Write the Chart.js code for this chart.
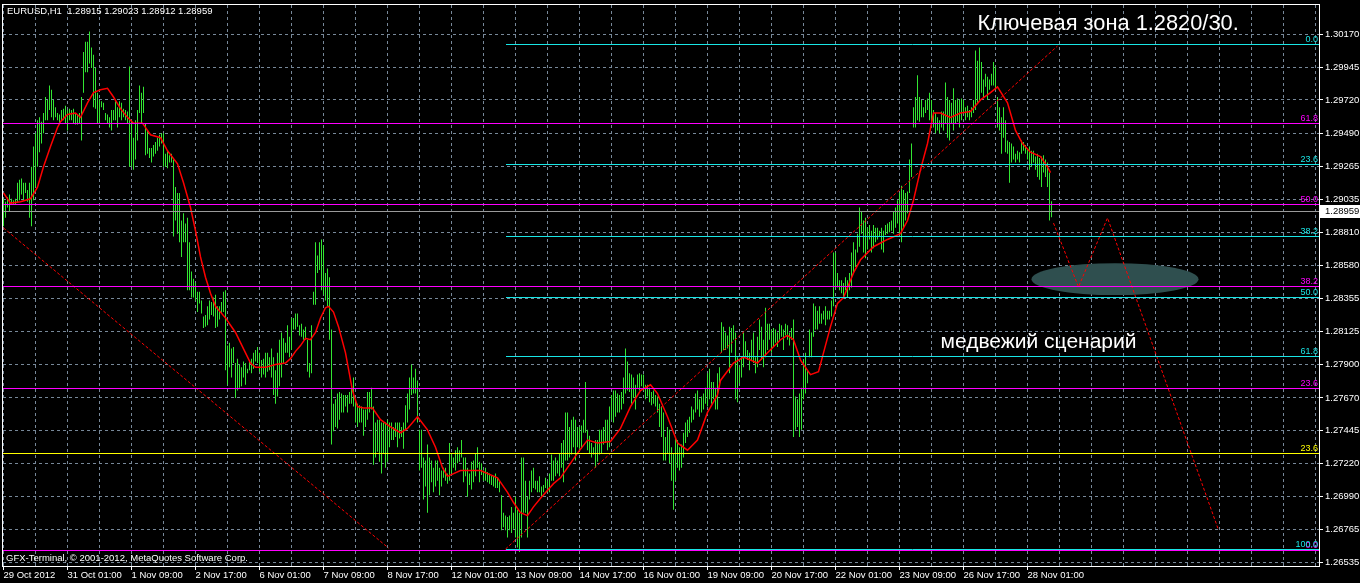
<!DOCTYPE html>
<html><head><meta charset="utf-8">
<script src="https://cdn.jsdelivr.net/npm/chart.js@4.4.1/dist/chart.umd.min.js"></script>
<style>html,body{margin:0;padding:0;background:#000;}canvas{display:block;}</style>
</head><body>
<canvas id="c" width="1360" height="583"></canvas>
<script>
// ---------- DATA ----------
const headerText = 'EURUSD,H1  1.28915 1.29023 1.28912 1.28959';
const copyrightText = 'GFX-Terminal, \u00A9 2001-2012, MetaQuotes Software Corp.';
const lastClose = 1.28959;

// bar index of each time label (H1 bars, weekends skipped)
const timeTickIdx = [0,32,64,96,128,160,192,224,256,288,320,352,384,416,448,480,512];
const timeTickLabels = ['29 Oct 2012','31 Oct 01:00','1 Nov 09:00','2 Nov 17:00','6 Nov 01:00','7 Nov 09:00','8 Nov 17:00','12 Nov 01:00','13 Nov 09:00','14 Nov 17:00','16 Nov 01:00','19 Nov 09:00','20 Nov 17:00','22 Nov 01:00','23 Nov 09:00','26 Nov 17:00','28 Nov 01:00'];
const priceTicks = [1.26535,1.26765,1.26990,1.27220,1.27445,1.27670,1.27900,1.28125,1.28355,1.28580,1.28810,1.29035,1.29265,1.29490,1.29720,1.29945,1.30170];

const barHigh = [
1.2904,1.2902,1.2905,1.2907,1.2904,1.2903,1.2904,1.2915,1.2917,1.2918,
1.2915,1.2915,1.2910,1.2915,1.2926,1.2940,1.2949,1.2958,1.2960,1.2957,
1.2963,1.2974,1.2972,1.2982,1.2979,1.2972,1.2967,1.2963,1.2962,1.2965,
1.2966,1.2968,1.2965,1.2966,1.2965,1.2966,1.2963,1.2962,1.2963,1.2974,
1.3005,1.3012,1.3012,1.3019,1.3008,1.3003,1.2994,1.2977,1.2972,1.2971,
1.2970,1.2963,1.2962,1.2960,1.2965,1.2965,1.2971,1.2967,1.2971,1.2970,
1.2966,1.2965,1.2964,1.2995,1.2958,1.2946,1.2958,1.2965,1.2982,1.2977,
1.2981,1.2956,1.2951,1.2939,1.2939,1.2941,1.2943,1.2946,1.2948,1.2949,
1.2949,1.2935,1.2937,1.2934,1.2935,1.2931,1.2912,1.2908,1.2908,1.2889,
1.2894,1.2887,1.2891,1.2874,1.2854,1.2849,1.2846,1.2840,1.2840,1.2834,
1.2823,1.2824,1.2830,1.2834,1.2833,1.2836,1.2838,1.2830,1.2830,1.2833,
1.2840,1.2841,1.2803,1.2805,1.2801,1.2802,1.2791,1.2794,1.2790,1.2788,
1.2792,1.2791,1.2787,1.2793,1.2794,1.2798,1.2800,1.2802,1.2798,1.2793,
1.2794,1.2798,1.2798,1.2795,1.2801,1.2795,1.2786,1.2798,1.2807,1.2812,
1.2808,1.2805,1.2817,1.2809,1.2822,1.2822,1.2825,1.2825,1.2817,1.2818,
1.2814,1.2816,1.2807,1.2791,1.2817,1.2840,1.2874,1.2865,1.2874,1.2876,
1.2872,1.2853,1.2856,1.2850,1.2814,1.2763,1.2766,1.2770,1.2771,1.2770,
1.2769,1.2769,1.2769,1.2771,1.2774,1.2781,1.2766,1.2763,1.2762,1.2761,
1.2759,1.2759,1.2771,1.2771,1.2774,1.2761,1.2750,1.2752,1.2752,1.2750,
1.2750,1.2750,1.2752,1.2750,1.2750,1.2747,1.2750,1.2750,1.2750,1.2747,
1.2750,1.2762,1.2770,1.2781,1.2790,1.2781,1.2787,1.2779,1.2745,1.2745,
1.2726,1.2724,1.2735,1.2726,1.2724,1.2719,1.2724,1.2724,1.2719,1.2717,
1.2719,1.2719,1.2715,1.2736,1.2729,1.2726,1.2731,1.2733,1.2731,1.2738,
1.2726,1.2726,1.2719,1.2715,1.2723,1.2724,1.2729,1.2733,1.2723,1.2722,
1.2717,1.2719,1.2716,1.2715,1.2714,1.2713,1.2715,1.2712,1.2710,1.2700,
1.2688,1.2686,1.2685,1.2686,1.2692,1.2688,1.2699,1.2690,1.2688,1.2726,
1.2726,1.2710,1.2699,1.2710,1.2717,1.2719,1.2710,1.2710,1.2713,1.2706,
1.2707,1.2712,1.2710,1.2715,1.2728,1.2724,1.2726,1.2724,1.2729,1.2736,
1.2738,1.2757,1.2757,1.2747,1.2752,1.2754,1.2752,1.2747,1.2747,1.2748,
1.2752,1.2778,1.2745,1.2741,1.2736,1.2733,1.2738,1.2738,1.2745,1.2745,
1.2747,1.2752,1.2752,1.2761,1.2769,1.2772,1.2772,1.2770,1.2769,1.2771,
1.2781,1.2801,1.2792,1.2784,1.2783,1.2781,1.2776,1.2783,1.2784,1.2783,
1.2783,1.2776,1.2776,1.2774,1.2771,1.2772,1.2769,1.2768,1.2763,1.2761,
1.2757,1.2740,1.2747,1.2745,1.2733,1.2729,1.2740,1.2738,1.2733,1.2735,
1.2743,1.2750,1.2752,1.2754,1.2761,1.2759,1.2770,1.2772,1.2766,1.2768,
1.2770,1.2774,1.2784,1.2787,1.2778,1.2778,1.2774,1.2784,1.2788,1.2819,
1.2816,1.2812,1.2810,1.2816,1.2815,1.2817,1.2812,1.2795,1.2788,1.2795,
1.2812,1.2806,1.2800,1.2798,1.2807,1.2812,1.2795,1.2809,1.2821,1.2816,
1.2807,1.2829,1.2818,1.2818,1.2814,1.2815,1.2814,1.2812,1.2818,1.2817,
1.2814,1.2818,1.2817,1.2812,1.2815,1.2821,1.2768,1.2766,1.2770,1.2774,
1.2793,1.2798,1.2786,1.2814,1.2812,1.2832,1.2830,1.2827,1.2830,1.2825,
1.2827,1.2830,1.2827,1.2827,1.2834,1.2867,1.2867,1.2853,1.2848,1.2848,
1.2846,1.2850,1.2848,1.2853,1.2867,1.2874,1.2869,1.2880,1.2898,1.2895,
1.2889,1.2891,1.2884,1.2886,1.2882,1.2886,1.2884,1.2884,1.2882,1.2884,
1.2882,1.2886,1.2887,1.2888,1.2889,1.2895,1.2898,1.2903,1.2908,1.2913,
1.2910,1.2908,1.2909,1.2931,1.2942,1.2967,1.2974,1.2989,1.2974,1.2972,
1.2967,1.2972,1.2973,1.2977,1.2972,1.2965,1.2963,1.2960,1.2958,1.2964,
1.2964,1.2984,1.2974,1.2972,1.2970,1.2980,1.2972,1.2973,1.2972,1.2973,
1.2972,1.2967,1.2968,1.2965,1.2967,1.2972,1.3006,1.2999,1.3008,1.2998,
1.2986,1.2990,1.2988,1.2986,1.2990,1.2998,1.2995,1.2974,1.2967,1.2960,
1.2967,1.2958,1.2944,1.2943,1.2942,1.2940,1.2935,1.2937,1.2936,1.2944,
1.2943,1.2941,1.2939,1.2940,1.2937,1.2937,1.2933,1.2935,1.2932,1.2933,
1.2934,1.2931,1.2929,1.2922,1.29023];

const barLow = [
1.2885,1.2891,1.2898,1.2895,1.2900,1.2900,1.2900,1.2901,1.2903,1.2907,
1.2903,1.2908,1.2902,1.2891,1.2885,1.2903,1.2912,1.2926,1.2936,1.2942,
1.2949,1.2958,1.2958,1.2965,1.2960,1.2958,1.2960,1.2958,1.2956,1.2958,
1.2958,1.2956,1.2951,1.2958,1.2958,1.2956,1.2955,1.2955,1.2956,1.2944,
1.2977,1.2991,1.2991,1.2997,1.2994,1.2967,1.2966,1.2956,1.2956,1.2967,
1.2965,1.2958,1.2956,1.2953,1.2951,1.2958,1.2958,1.2953,1.2960,1.2958,
1.2960,1.2958,1.2956,1.2926,1.2926,1.2924,1.2931,1.2944,1.2963,1.2956,
1.2963,1.2934,1.2935,1.2932,1.2929,1.2933,1.2935,1.2937,1.2940,1.2942,
1.2926,1.2926,1.2925,1.2929,1.2929,1.2878,1.2889,1.2880,1.2874,1.2864,
1.2874,1.2874,1.2841,1.2841,1.2836,1.2836,1.2834,1.2826,1.2832,1.2825,
1.2815,1.2816,1.2817,1.2821,1.2824,1.2823,1.2815,1.2816,1.2821,1.2825,
1.2826,1.2786,1.2776,1.2788,1.2781,1.2791,1.2767,1.2772,1.2774,1.2775,
1.2781,1.2776,1.2784,1.2786,1.2784,1.2787,1.2792,1.2791,1.2785,1.2781,
1.2783,1.2781,1.2785,1.2786,1.2781,1.2769,1.2763,1.2768,1.2775,1.2781,
1.2791,1.2798,1.2798,1.2795,1.2800,1.2814,1.2814,1.2816,1.2810,1.2809,
1.2807,1.2807,1.2785,1.2781,1.2784,1.2831,1.2831,1.2853,1.2855,1.2841,
1.2838,1.2834,1.2830,1.2807,1.2735,1.2744,1.2747,1.2746,1.2752,1.2757,
1.2757,1.2761,1.2757,1.2763,1.2763,1.2761,1.2750,1.2747,1.2750,1.2750,
1.2741,1.2747,1.2752,1.2757,1.2759,1.2721,1.2726,1.2730,1.2723,1.2715,
1.2729,1.2719,1.2723,1.2733,1.2738,1.2738,1.2740,1.2733,1.2739,1.2740,
1.2732,1.2745,1.2750,1.2759,1.2769,1.2770,1.2770,1.2750,1.2717,1.2719,
1.2697,1.2706,1.2688,1.2700,1.2709,1.2702,1.2706,1.2710,1.2700,1.2706,
1.2712,1.2710,1.2708,1.2710,1.2715,1.2719,1.2717,1.2722,1.2723,1.2726,
1.2709,1.2713,1.2699,1.2707,1.2704,1.2709,1.2713,1.2719,1.2709,1.2714,
1.2710,1.2710,1.2709,1.2708,1.2707,1.2706,1.2705,1.2705,1.2702,1.2676,
1.2678,1.2676,1.2671,1.2676,1.2674,1.2677,1.2671,1.2664,1.2661,1.2671,
1.2688,1.2688,1.2671,1.2697,1.2702,1.2705,1.2704,1.2702,1.2702,1.2699,
1.2702,1.2705,1.2702,1.2702,1.2710,1.2710,1.2713,1.2715,1.2713,1.2719,
1.2709,1.2724,1.2724,1.2726,1.2728,1.2733,1.2724,1.2733,1.2732,1.2732,
1.2743,1.2743,1.2731,1.2729,1.2726,1.2728,1.2719,1.2723,1.2728,1.2729,
1.2735,1.2736,1.2731,1.2733,1.2752,1.2750,1.2754,1.2757,1.2757,1.2759,
1.2763,1.2770,1.2772,1.2771,1.2763,1.2767,1.2759,1.2774,1.2772,1.2775,
1.2772,1.2766,1.2768,1.2764,1.2762,1.2763,1.2761,1.2757,1.2747,1.2740,
1.2724,1.2724,1.2729,1.2722,1.2710,1.2690,1.2710,1.2719,1.2717,1.2719,
1.2726,1.2736,1.2740,1.2743,1.2750,1.2752,1.2757,1.2759,1.2754,1.2757,
1.2759,1.2763,1.2761,1.2766,1.2763,1.2766,1.2759,1.2759,1.2777,1.2798,
1.2800,1.2800,1.2801,1.2784,1.2798,1.2807,1.2766,1.2764,1.2777,1.2781,
1.2788,1.2795,1.2793,1.2786,1.2793,1.2791,1.2784,1.2788,1.2800,1.2793,
1.2788,1.2795,1.2800,1.2807,1.2798,1.2802,1.2805,1.2802,1.2807,1.2809,
1.2800,1.2810,1.2807,1.2803,1.2807,1.2740,1.2745,1.2747,1.2740,1.2745,
1.2766,1.2770,1.2777,1.2795,1.2795,1.2809,1.2814,1.2814,1.2818,1.2818,
1.2821,1.2817,1.2821,1.2821,1.2823,1.2830,1.2843,1.2843,1.2841,1.2839,
1.2836,1.2841,1.2836,1.2841,1.2843,1.2853,1.2857,1.2867,1.2871,1.2880,
1.2867,1.2863,1.2869,1.2876,1.2867,1.2870,1.2874,1.2876,1.2878,1.2869,
1.2867,1.2879,1.2880,1.2881,1.2882,1.2880,1.2884,1.2887,1.2880,1.2874,
1.2884,1.2889,1.2894,1.2908,1.2919,1.2953,1.2953,1.2958,1.2957,1.2960,
1.2960,1.2963,1.2965,1.2958,1.2958,1.2953,1.2949,1.2951,1.2949,1.2953,
1.2951,1.2956,1.2946,1.2944,1.2956,1.2951,1.2956,1.2957,1.2953,1.2958,
1.2963,1.2958,1.2960,1.2958,1.2960,1.2963,1.2965,1.2970,1.2972,1.2977,
1.2974,1.2981,1.2972,1.2979,1.2982,1.2982,1.2979,1.2953,1.2951,1.2935,
1.2946,1.2936,1.2935,1.2915,1.2929,1.2931,1.2929,1.2931,1.2929,1.2935,
1.2937,1.2935,1.2931,1.2924,1.2926,1.2929,1.2924,1.2919,1.2917,1.2912,
1.2922,1.2919,1.2912,1.2889,1.28912];

// red moving average (bar index, price)
const maIdx = [0,3.5,8.5,13.5,17,20,23.5,27,28.5,32,36,38.5,42,45,48.5,52,55,58.5,62,65,69.5,73.5,78.5,82,87,90,93.5,96,98.5,101,103.5,106,108.5,111,113.5,116,118.5,121,123.5,126,131,136,141,143.5,146,148.5,151,153.5,156,158.5,161,162.5,165,167.5,171,174.5,177,180,184.5,188.5,193.5,198.5,202,207,212,216,219.5,222,228.5,238.5,247,252,255,258.5,262,265,268.5,275,278.5,282,287,292,297,303.5,308.5,313.5,318.5,323.5,327,332,337,342,347,352,357,358.5,365,370,377,382,388.5,392,395,398.5,403.5,407.5,410,413.5,417,420,425,428.5,435,442,448.5,452,455,458.5,462,465,468.5,473.5,478.5,483.5,488.5,493.5,497,502,506,509.5,513.5,518.5,522,523.5];
const maVal = [1.2908,1.2901,1.2902,1.2904,1.2912,1.2926,1.2940,1.2953,1.2957,1.2962,1.2963,1.2960,1.2970,1.2977,1.2979,1.2980,1.2974,1.2966,1.2960,1.2956,1.2956,1.2948,1.2946,1.2937,1.2928,1.2915,1.2898,1.2882,1.2864,1.2850,1.2839,1.2830,1.2826,1.2822,1.2817,1.2812,1.2805,1.2798,1.2791,1.2788,1.2788,1.2790,1.2791,1.2794,1.2799,1.2803,1.2808,1.2807,1.2812,1.2822,1.2829,1.2830,1.2826,1.2816,1.2798,1.2772,1.2761,1.2760,1.2760,1.2752,1.2747,1.2743,1.2746,1.2754,1.2745,1.2733,1.2719,1.2713,1.2717,1.2717,1.2712,1.2702,1.2695,1.2688,1.2686,1.2692,1.2698,1.2708,1.2712,1.2719,1.2729,1.2738,1.2736,1.2737,1.2746,1.2761,1.2772,1.2776,1.2770,1.2754,1.2736,1.2731,1.2738,1.2757,1.2769,1.2779,1.2791,1.2795,1.2791,1.2798,1.2807,1.2810,1.2807,1.2793,1.2783,1.2785,1.2798,1.2816,1.2832,1.2836,1.2853,1.2862,1.2871,1.2876,1.2880,1.2889,1.2903,1.2924,1.2942,1.2963,1.2963,1.2960,1.2963,1.2964,1.2972,1.2977,1.2981,1.2970,1.2951,1.2942,1.2936,1.2933,1.2926,1.2922];

// dotted trend lines and projected path
const trendDownIdx = [0, 192.5];
const trendDownVal = [1.28839, 1.26637];
const trendUpIdx = [251, 527];
const trendUpVal = [1.26630, 1.30091];
const scenarioIdx = [525, 537.5, 552, 607.5];
const scenarioVal = [1.28873, 1.28433, 1.28908, 1.26761];

// Fibonacci level sets
const fibALevels = ['0.0','23.6','38.2','50.0','61.8','100.0'];
const fibAPrices = [1.30105, 1.29282, 1.28784, 1.28367, 1.27960, 1.26630];
const fibAStartIdx = 251;
const fibBLevels = ['61.8','50.0','38.2','23.6','0.0'];
const fibBPrices = [1.29559, 1.29004, 1.28437, 1.27738, 1.26620];
const fibCLevels = ['23.6'];
const fibCPrices = [1.27291];

// zone ellipse: centre (index, price), radii (bars, price)
const zoneCenter = [555.75, 1.28487];
const zoneRadius = [41.75, 0.0011];

// text notes: (index, price, font size)
const noteTexts = ['Ключевая зона 1.2820/30.', 'медвежий сценарий'];
const noteIdx = [487, 468.5];
const noteVal = [1.30242, 1.28054];
const noteSize = [21.8, 21];

// ---------- CHART ----------
const FONT = 'Liberation Sans';
const GRID = '#778899';
const CYAN = '#19E6E6', MAGENTA = '#FF00FF', YELLOW = '#FFFF00';

const barData = barHigh.map((h, i) => ({x: i, y: [barLow[i], h]}));
const pts = (xs, ys) => xs.map((v, i) => ({x: v, y: ys[i]}));

const overlay = {
  id: 'overlay',
  beforeDatasetsDraw(chart) {
    const {ctx, chartArea: a, scales: {x, y}} = chart;
    ctx.save();
    ctx.beginPath(); ctx.rect(a.left, a.top, a.right - a.left, a.bottom - a.top); ctx.clip();
    const cx = x.getPixelForValue(zoneCenter[0]), cy = y.getPixelForValue(zoneCenter[1]);
    const rx = Math.abs(x.getPixelForValue(zoneCenter[0] + zoneRadius[0]) - cx);
    const ry = Math.abs(y.getPixelForValue(zoneCenter[1] + zoneRadius[1]) - cy);
    ctx.fillStyle = '#2F4F4F';
    ctx.beginPath(); ctx.ellipse(cx, cy, rx, ry, 0, 0, Math.PI * 2); ctx.fill();
    ctx.restore();
  },
  afterDatasetsDraw(chart) {
    const {ctx, chartArea: a, scales: {x, y}} = chart;
    ctx.save();
    ctx.beginPath(); ctx.rect(a.left, a.top, a.right - a.left, a.bottom - a.top); ctx.clip();
    const hline = (price, fromIdx, color) => {
      const py = Math.round(y.getPixelForValue(price)) + 0.5;
      const x0 = fromIdx == null ? a.left : Math.round(x.getPixelForValue(fromIdx));
      ctx.strokeStyle = color; ctx.lineWidth = 1;
      ctx.beginPath(); ctx.moveTo(x0, py); ctx.lineTo(a.right, py); ctx.stroke();
      return py;
    };
    const label = (txt, py, color) => {
      ctx.fillStyle = color; ctx.font = '9px "' + FONT + '"';
      ctx.textAlign = 'right'; ctx.textBaseline = 'alphabetic';
      ctx.fillText(txt, a.right - 1, py - 2.5);
    };
    hline(lastClose, null, '#9A9A9A');
    fibBPrices.forEach((p, i) => label(fibBLevels[i], hline(p, null, MAGENTA), MAGENTA));
    fibCPrices.forEach((p, i) => label(fibCLevels[i], hline(p, null, YELLOW), YELLOW));
    fibAPrices.forEach((p, i) => label(fibALevels[i], hline(p, fibAStartIdx, CYAN), CYAN));
    // notes
    ctx.fillStyle = '#FFFFFF';
    ctx.textAlign = 'left'; ctx.textBaseline = 'middle';
    noteTexts.forEach((t, i) => {
      ctx.font = noteSize[i] + 'px "' + FONT + '"';
      ctx.fillText(t, x.getPixelForValue(noteIdx[i]), y.getPixelForValue(noteVal[i]));
    });
    ctx.restore();
  },
  afterDraw(chart) {
    const {ctx, chartArea: a, scales: {y}} = chart;
    ctx.save();
    ctx.strokeStyle = '#FFFFFF'; ctx.lineWidth = 1;
    ctx.strokeRect(a.left - 0.5, a.top - 0.5, a.right - a.left + 1, a.bottom - a.top + 1);
    ctx.fillStyle = '#FFFFFF'; ctx.font = '9.5px "' + FONT + '"';
    ctx.textAlign = 'left'; ctx.textBaseline = 'middle';
    ctx.fillText(headerText, 7, 11);
    ctx.fillText(copyrightText, 6, 558);
    // current price box
    const py = Math.round(y.getPixelForValue(lastClose));
    ctx.fillStyle = '#FFFFFF';
    ctx.fillRect(a.right + 1, py - 6, 41, 13);
    ctx.fillStyle = '#000000';
    ctx.fillText(lastClose.toFixed(5), a.right + 6, py + 0.5);
    ctx.restore();
  }
};

new Chart(document.getElementById('c'), {
  type: 'bar',
  data: {
    datasets: [
      {type: 'bar', data: barData, backgroundColor: '#32E632', borderWidth: 0, barThickness: 1, inflateAmount: 0, order: 10},
      {type: 'line', data: pts(maIdx, maVal), borderColor: '#FF0000', borderWidth: 1.5, pointRadius: 0, tension: 0, order: 5},
      {type: 'line', data: pts(trendDownIdx, trendDownVal), borderColor: '#FF0000', borderWidth: 1, borderDash: [3, 2], pointRadius: 0, order: 1},
      {type: 'line', data: pts(trendUpIdx, trendUpVal), borderColor: '#FF0000', borderWidth: 1, borderDash: [3, 2], pointRadius: 0, order: 1},
      {type: 'line', data: pts(scenarioIdx, scenarioVal), borderColor: '#FF0000', borderWidth: 1, borderDash: [3, 2], pointRadius: 0, order: 1}
    ]
  },
  options: {
    responsive: false,
    animation: false,
    devicePixelRatio: 1,
    layout: {padding: {left: 3, top: 5, right: 0, bottom: 0}},
    plugins: {legend: {display: false}, tooltip: {enabled: false}},
    scales: {
      x: {
        type: 'linear', min: -0.25, max: 657.75, offset: false,
        afterBuildTicks: s => { const t = []; for (let v = 0; v <= 656; v += 16) t.push({value: v}); s.ticks = t; },
        afterFit: s => { s.height = 17; s.paddingLeft = 0; s.paddingRight = 0; },
        grid: {offset: false, color: GRID, lineWidth: 1, tickLength: 4, tickBorderDash: [],
               tickColor: c => (c.tick && timeTickIdx.includes(c.tick.value)) ? '#FFFFFF' : 'rgba(0,0,0,0)'},
        border: {display: false, dash: [3, 3]},
        ticks: {color: '#FFFFFF', font: {family: FONT, size: 9.5}, align: 'start', autoSkip: false,
                maxRotation: 0, minRotation: 0, padding: 0,
                callback: v => { const k = timeTickIdx.indexOf(v); return k >= 0 ? timeTickLabels[k] : ''; }}
      },
      y: {
        type: 'linear', position: 'right', min: 1.265133, max: 1.303730,
        afterBuildTicks: s => { s.ticks = priceTicks.map(v => ({value: v})); },
        afterFit: s => { s.width = 41; s.paddingTop = 0; s.paddingBottom = 0; },
        grid: {color: GRID, lineWidth: 1, tickLength: 4, tickColor: '#FFFFFF', tickBorderDash: []},
        border: {display: false, dash: [3, 3]},
        ticks: {color: '#FFFFFF', font: {family: FONT, size: 9.5}, padding: 2, callback: v => Number(v).toFixed(5)}
      }
    }
  },
  plugins: [overlay]
});
</script>
</body></html>
